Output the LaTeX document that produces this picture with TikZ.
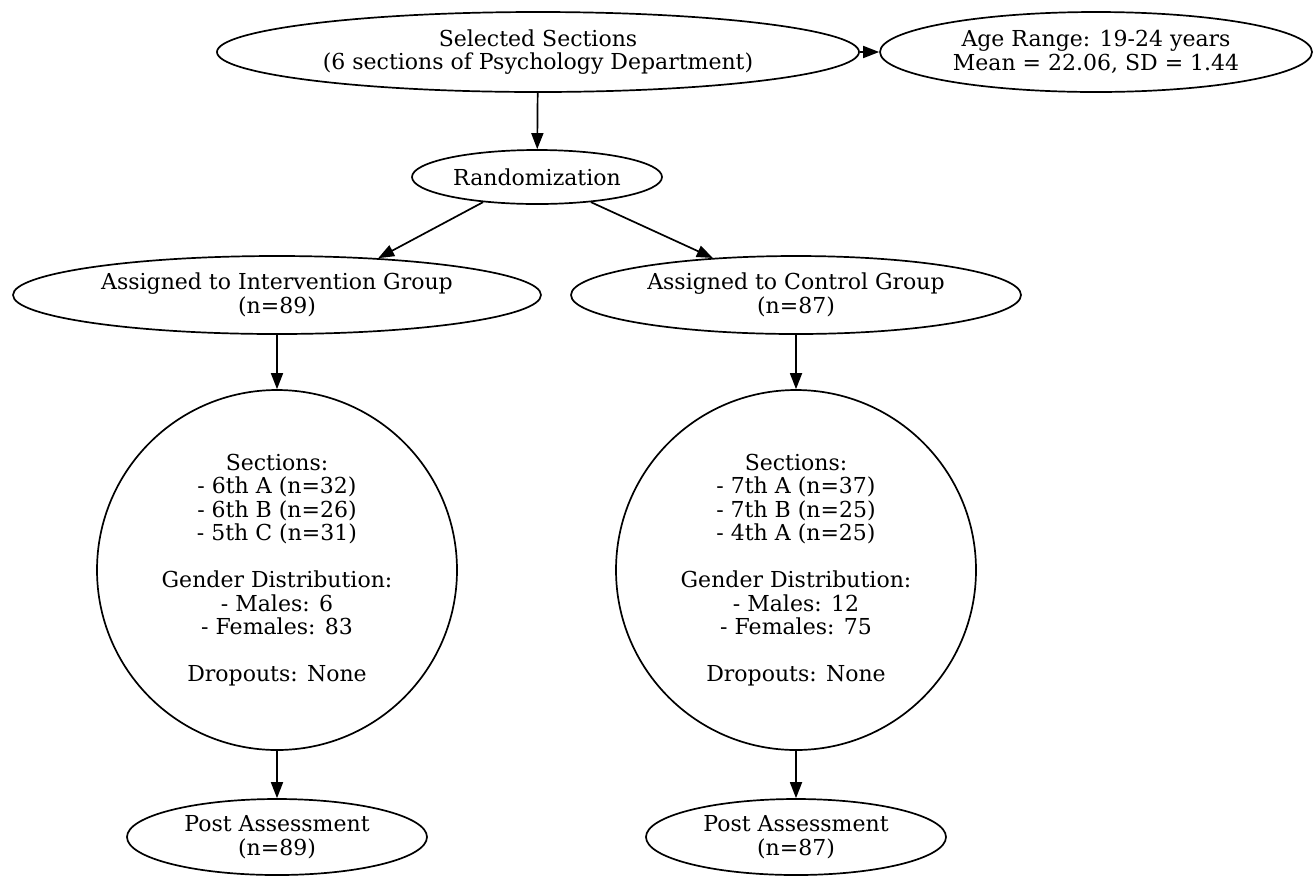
\documentclass[tikz,border=0pt]{standalone}
\usepackage{fontspec}
\setmainfont{DejaVu Serif}
\usetikzlibrary{shapes.geometric,arrows.meta}
\begin{document}
\begin{tikzpicture}[x=0.5pt,y=-0.5pt,
  every node/.style={font=\fontsize{11}{11.75}\selectfont,align=center,inner sep=0pt,draw,line width=0.85pt},
  ell/.style={ellipse},
  circ/.style={circle,minimum size=180pt},
  arr/.style={line width=0.85pt,-{Triangle[length=8pt,width=6pt]}}]
\useasboundingbox[fill=white] (0,0) rectangle (1315,885);
\node[ell,minimum width=321pt,minimum height=40pt] (sel) at (538,52) {Selected Sections\\(6 sections of Psychology Department)};
\node[ell,minimum width=216pt,minimum height=40pt] (age) at (1096,52) {Age Range: 19-24 years\\Mean = 22.06, SD = 1.44};
\node[ell,minimum width=125pt,minimum height=27pt] (rand) at (537,177) {Randomization};
\node[ell,minimum width=264pt,minimum height=39pt] (int) at (277,295) {Assigned to Intervention Group\\(n=89)};
\node[ell,minimum width=225pt,minimum height=39pt] (ctl) at (796,295) {Assigned to Control Group\\(n=87)};
\node[circ] (c1) at (277,570) {Sections:\\- 6th A (n=32)\\- 6th B (n=26)\\- 5th C (n=31)\\[11.75pt]Gender Distribution:\\- Males: 6\\- Females: 83\\[11.75pt]Dropouts: None};
\node[circ] (c2) at (796,570) {Sections:\\- 7th A (n=37)\\- 7th B (n=25)\\- 4th A (n=25)\\[11.75pt]Gender Distribution:\\- Males: 12\\- Females: 75\\[11.75pt]Dropouts: None};
\node[ell,minimum width=150pt,minimum height=38pt] (p1) at (277,837) {Post Assessment\\(n=89)};
\node[ell,minimum width=150pt,minimum height=38pt] (p2) at (796,837) {Post Assessment\\(n=87)};
\draw[arr] (sel) -- (age);
\draw[arr] (sel) -- (rand);
\draw[arr] (rand.205) -- (int.20);
\draw[arr] (rand.335) -- (ctl.156);
\draw[arr] (int) -- (c1);
\draw[arr] (ctl) -- (c2);
\draw[arr] (c1) -- (p1);
\draw[arr] (c2) -- (p2);
\end{tikzpicture}
\end{document}
